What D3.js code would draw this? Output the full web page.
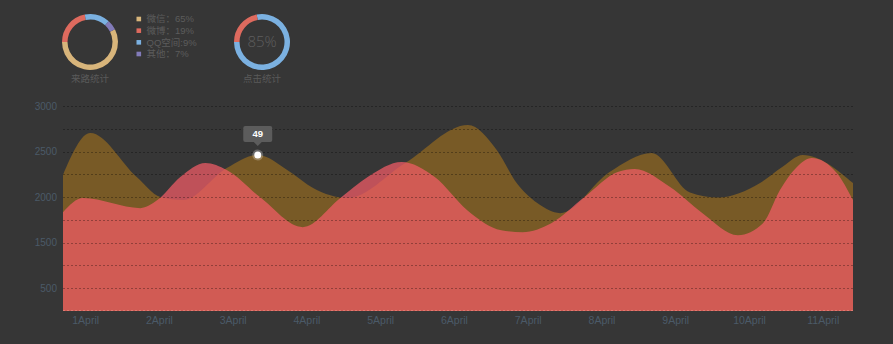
<!DOCTYPE html>
<html><head><meta charset="utf-8">
<script src="https://cdn.jsdelivr.net/npm/d3@7/dist/d3.min.js"></script>
<style>
html,body{margin:0;padding:0;background:#363636;}
svg{display:block;}
text{font-family:"Liberation Sans",Arial,sans-serif;}
.cjk{font-family:"Noto Sans CJK SC","Liberation Sans",sans-serif;}
.leg{font-family:"Liberation Sans","Noto Sans CJK SC",sans-serif;}
</style></head>
<body>
<svg id="chart" width="893" height="344"></svg>
<script>
// ---------- data ----------
const dayLabels = ["1April","2April","3April","4April","5April","6April","7April","8April","9April","10April","11April"];
const dayValues = [1,2,3,4,5,6,7,8,9,10,11];
const yTickValues = [3000,2500,2000,1500,1000];
const yTickLabels = ["3000","2500","2000","1500","500"];
const yGridValues = [3000,2750,2500,2250,2000,1750,1500,1250,1000];

// gold series (day position, value)
const goldDays   = [0.70,1.07,1.70,2.02,2.33,2.92,3.34,3.78,4.09,4.56,5.34,6.19,6.58,6.85,7.13,7.44,8.11,8.68,9.20,9.58,10.15,10.45,10.73,11.41];
const goldValues = [2242,2703,2220,2000,1967,2319,2462,2275,2099,1989,2374,2791,2516,2154,1934,1824,2275,2484,2050,1995,2154,2330,2462,2154];
// red series
const redDays   = [0.70,0.97,1.75,1.98,2.29,2.63,2.92,3.37,3.95,4.46,4.83,5.29,5.74,6.18,6.64,6.93,7.32,7.77,8.22,8.45,8.93,9.37,9.85,10.19,10.42,10.65,10.85,11.19,11.41];
const redValues = [1835,1989,1879,1967,2220,2374,2297,2000,1670,1989,2220,2385,2220,1857,1637,1615,1714,2000,2275,2308,2110,1824,1582,1714,2077,2330,2429,2264,1967];

const tooltipDay = 3.34, tooltipValue = 2462, tooltipText = "49";

// donuts
const sourceNames  = ["微信：65%","微博：19%","QQ空间:9%","其他：7%"];
const sourceShares = [57.5,22,14.7,5.8];
const sourceColors = ["#d8b57b","#de6a5e","#7bb1e1","#827bb9"];
const clickShares  = [78,22];
const clickColors  = ["#7bb1e1","#de6a5e"];
const clickText = "85%";
const donutTitles = ["来路统计","点击统计"];

// ---------- drawing ----------
const svg = d3.select("#chart");
const plot = {left:63,right:853,top:106,bottom:311};
const x = d3.scaleLinear().domain([0.70,11.41]).range([plot.left,plot.right]);
const y = d3.scaleLinear().domain([750,3000]).range([plot.bottom,plot.top]);

const goldData = goldDays.map((d,i)=>({d,v:goldValues[i]}));
const redData = redDays.map((d,i)=>({d,v:redValues[i]}));

const area = d3.area().x(p=>x(p.d)).y0(plot.bottom).y1(p=>y(p.v)).curve(d3.curveMonotoneX);

svg.append("path").datum(goldData).attr("d",area).attr("fill","#785a26");
svg.append("path").datum(redData).attr("d",area).attr("fill","rgba(244,91,103,0.72)");

// grid lines
svg.append("g").selectAll("line").data(yGridValues).join("line")
  .attr("x1",plot.left).attr("x2",plot.right)
  .attr("y1",v=>Math.round(y(v))+0.5).attr("y2",v=>Math.round(y(v))+0.5)
  .attr("stroke","rgba(0,0,0,0.3)").attr("stroke-dasharray","2,2");
svg.append("line").attr("x1",plot.left).attr("x2",plot.right)
  .attr("y1",plot.bottom-0.5).attr("y2",plot.bottom-0.5)
  .attr("stroke","rgba(255,180,170,0.35)").attr("stroke-dasharray","2,2");

// y axis
const yAxis = d3.axisLeft(y).tickValues(yTickValues)
  .tickFormat((v,i)=>yTickLabels[i]).tickSize(0).tickPadding(6);
const gy = svg.append("g").attr("transform",`translate(${plot.left},0)`).call(yAxis);
gy.select(".domain").remove();
gy.selectAll("text").attr("fill","#4b5a68").style("font-size","10px")
  .style("font-family","'Liberation Sans',Arial,sans-serif");

// x axis
const xAxis = d3.axisBottom(x).tickValues(dayValues)
  .tickFormat((v,i)=>dayLabels[i]).tickSize(0).tickPadding(6);
const gx = svg.append("g").attr("transform",`translate(0,${plot.bottom})`).call(xAxis);
gx.select(".domain").remove();
gx.selectAll("text").attr("fill","#4b5a68").style("font-size","10.5px")
  .style("font-family","'Liberation Sans',Arial,sans-serif");

// tooltip
const tx = x(tooltipDay), ty = y(tooltipValue);
svg.append("circle").attr("cx",tx).attr("cy",ty).attr("r",5.5).attr("fill","rgba(255,255,255,0.25)");
svg.append("circle").attr("cx",tx).attr("cy",ty).attr("r",3.5).attr("fill","#ffffff");
const tipW=29, tipH=16, tipY=ty-29;
svg.append("rect").attr("x",tx-tipW/2).attr("y",tipY).attr("width",tipW).attr("height",tipH)
  .attr("rx",2).attr("fill","#5c5c5c");
svg.append("path").attr("d",`M${tx-4},${tipY+tipH}L${tx},${tipY+tipH+4}L${tx+4},${tipY+tipH}Z`).attr("fill","#5c5c5c");
svg.append("text").attr("x",tx).attr("y",tipY+tipH/2).attr("dy","0.35em")
  .attr("text-anchor","middle").attr("fill","#ffffff").style("font-size","9.5px").style("font-weight","bold")
  .text(tooltipText);

// donuts
const arc = d3.arc().innerRadius(22.5).outerRadius(28);
function donut(cx,cy,shares,colors,start){
  const pie = d3.pie().sort(null).value(v=>v).startAngle(start).endAngle(start+2*Math.PI);
  svg.append("g").attr("transform",`translate(${cx},${cy})`)
    .selectAll("path").data(pie(shares)).join("path")
    .attr("d",arc).attr("fill",(d,i)=>colors[i]);
}
const deg = Math.PI/180;
donut(90,42,sourceShares,sourceColors,63*deg);
donut(262,42,clickShares,clickColors,-11*deg);

svg.append("text").attr("x",262).attr("y",42).attr("dy","0.35em").attr("text-anchor","middle")
  .attr("fill","#5e5e5e").style("font-size","15px").style("font-family","'Open Sans','Liberation Sans',sans-serif").style("font-weight","300")
  .text(clickText);

[90,262].forEach((cx,i)=>{
  svg.append("text").attr("class","cjk").attr("x",cx).attr("y",79).attr("dy","0.35em")
    .attr("text-anchor","middle").attr("fill","#5a5a5a").style("font-size","9.5px").text(donutTitles[i]);
});

// legend
const lg = svg.append("g");
const rowY = d3.scalePoint().domain(d3.range(sourceNames.length)).range([19,54]);
sourceNames.forEach((n,i)=>{
  lg.append("rect").attr("x",136.5).attr("y",rowY(i)-2.3).attr("width",4.6).attr("height",4.6).attr("fill",sourceColors[i]);
  lg.append("text").attr("class","leg").attr("x",146.5).attr("y",rowY(i)).attr("dy","0.35em")
    .attr("fill","#5c5c5c").style("font-size","9.5px").text(n);
});
</script>
</body></html>
